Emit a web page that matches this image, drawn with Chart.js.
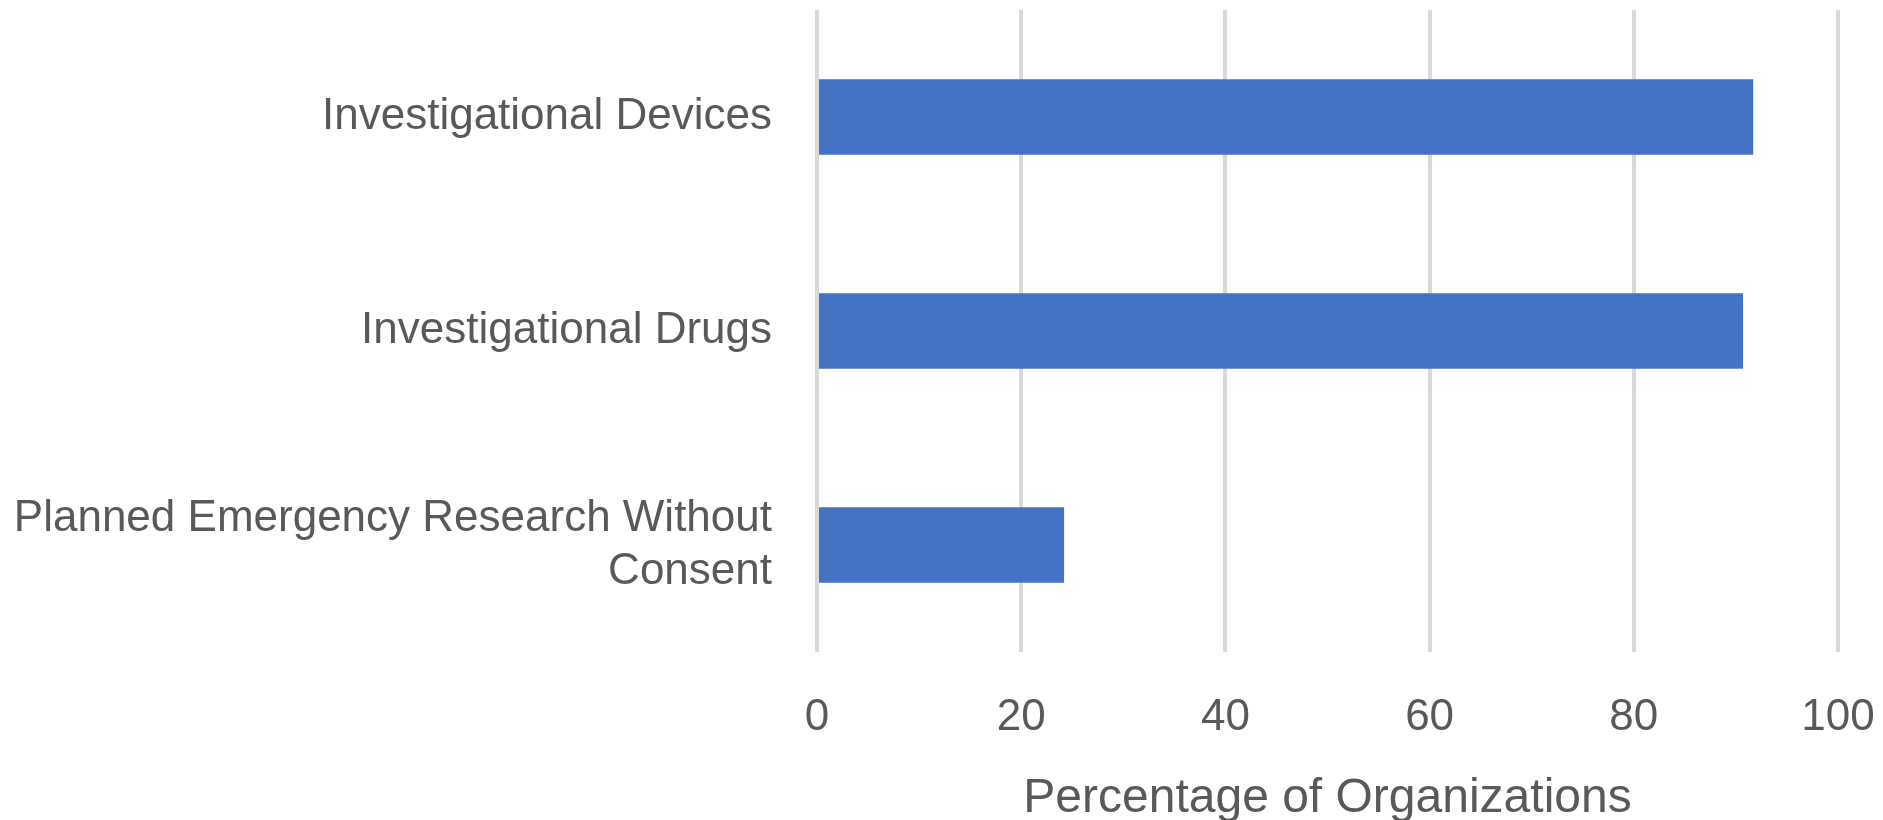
<!DOCTYPE html>
<html>
<head>
<meta charset="utf-8">
<script src="https://cdn.jsdelivr.net/npm/chart.js@4.4.1/dist/chart.umd.min.js"></script>
<style>
  html, body { margin: 0; padding: 0; background: #ffffff; }
  #wrap { width: 1883px; height: 820px; position: relative; }
</style>
</head>
<body>
<div id="wrap"><canvas id="c"></canvas></div>
<script>
const categories = [
  'Investigational Devices',
  'Investigational Drugs',
  ['Planned Emergency Research Without', 'Consent']
];
const percentages = [91.7, 90.7, 24.2];
const xTickValues = [0, 20, 40, 60, 80, 100];
const xAxisTitle = 'Percentage of Organizations';

const textColor = '#595959';
const fontFamily = '"Liberation Sans", Arial, sans-serif';

new Chart(document.getElementById('c'), {
  type: 'bar',
  data: {
    labels: categories,
    datasets: [{
      data: percentages,
      backgroundColor: '#4472C4',
      borderWidth: 0,
      categoryPercentage: 1.0,
      barPercentage: 0.353
    }]
  },
  options: {
    indexAxis: 'y',
    responsive: true,
    maintainAspectRatio: false,
    animation: false,
    layout: { padding: { top: 10, right: 45, bottom: 0, left: 0 } },
    plugins: {
      legend: { display: false },
      tooltip: { enabled: false },
      title: { display: false }
    },
    scales: {
      x: {
        min: 0,
        max: 100,
        afterBuildTicks: (scale) => { scale.ticks = xTickValues.map(v => ({ value: v })); },
        afterFit: (scale) => {
          scale.height = 168;
          scale.paddingLeft = 0; scale.paddingRight = 0;
          scale.paddingTop = 0; scale.paddingBottom = 0;
        },
        grid: { color: '#d9d9d9', lineWidth: 4, drawTicks: false },
        border: { display: false },
        ticks: {
          color: textColor,
          font: { family: fontFamily, size: 44 },
          padding: 39,
          maxRotation: 0
        },
        title: {
          display: true,
          text: xAxisTitle,
          color: textColor,
          font: { family: fontFamily, size: 48, lineHeight: 0.9 },
          padding: { top: 0, bottom: 0 }
        }
      },
      y: {
        afterFit: (scale) => {
          scale.width = 817;
          scale.paddingLeft = 0; scale.paddingRight = 0;
          scale.paddingTop = 0; scale.paddingBottom = 0;
        },
        grid: { display: false, drawTicks: false },
        border: { display: false },
        ticks: {
          color: textColor,
          font: { family: fontFamily, size: 44, lineHeight: 1.2 },
          padding: 45
        }
      }
    }
  }
});
</script>
</body>
</html>
